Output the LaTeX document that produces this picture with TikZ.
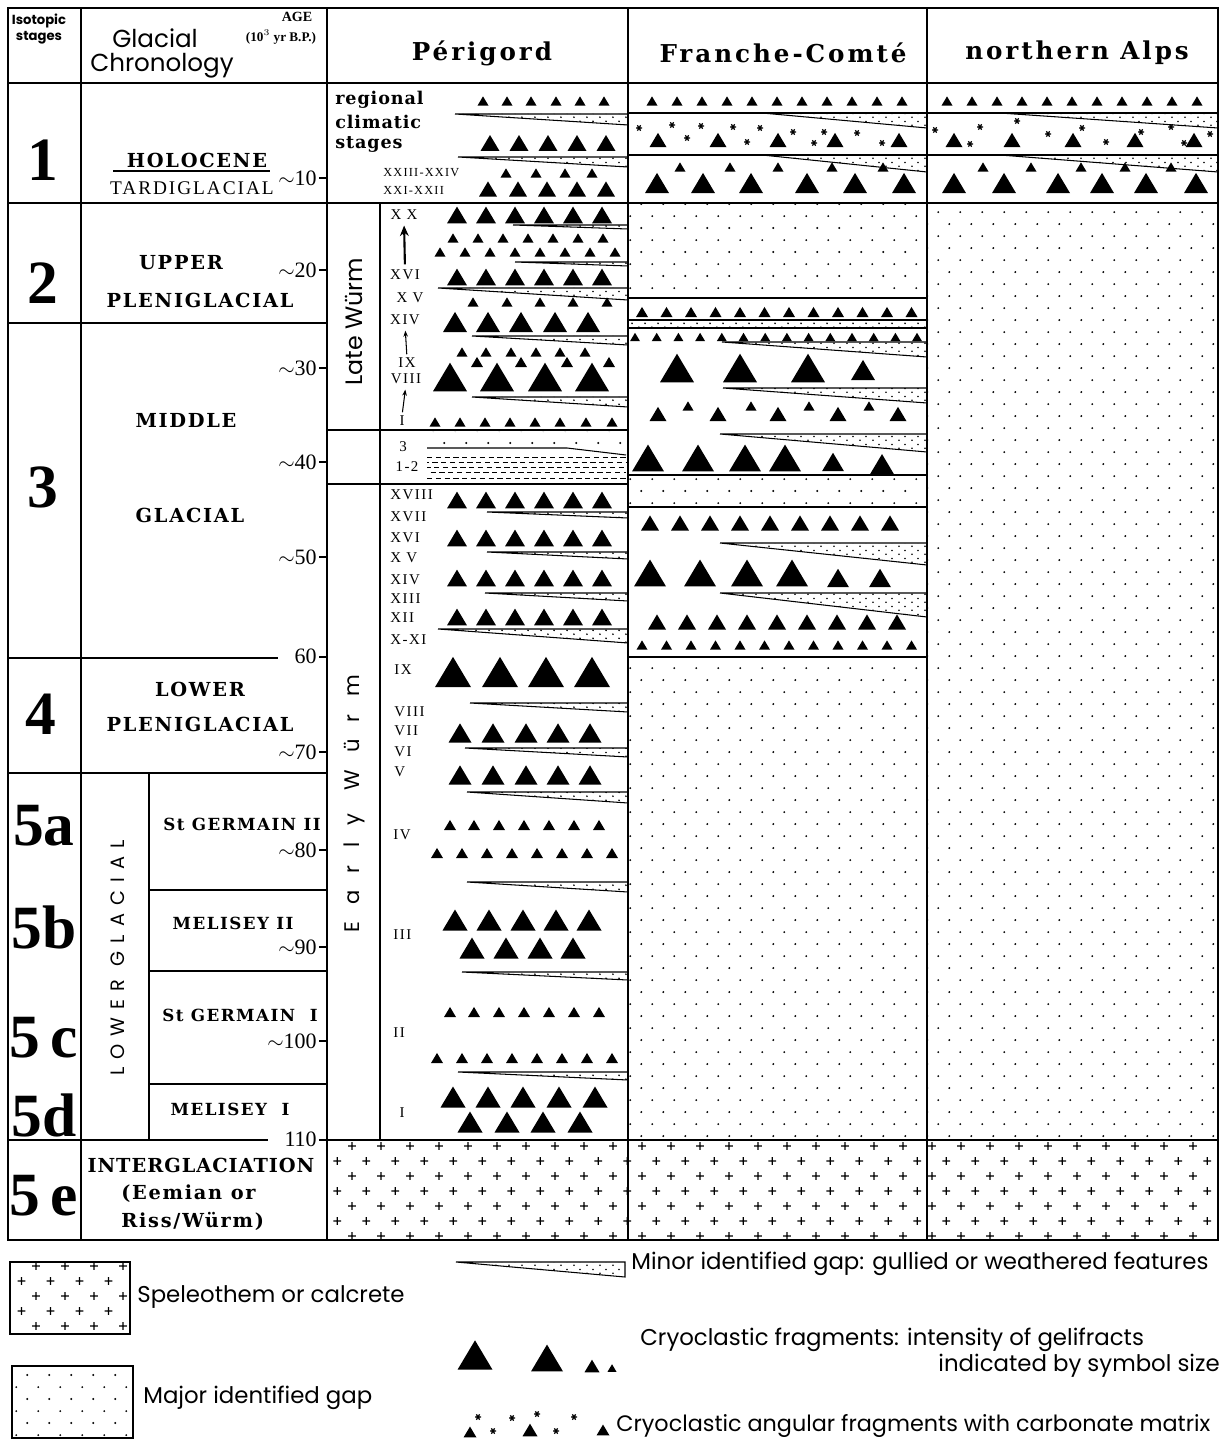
\documentclass[tikz,border=0pt]{standalone}
\usepackage{fontspec}
\usetikzlibrary{patterns,arrows.meta}
\newfontfamily\slabfont[LetterSpace=5]{DejaVu Serif}
\newfontfamily\spacedslab[LetterSpace=9]{DejaVu Serif}
\newfontfamily\headfont[LetterSpace=12]{DejaVu Serif}
\newfontfamily\timesfont{Liberation Serif}
\newfontfamily\romfont[LetterSpace=10]{Liberation Serif}
\newfontfamily\gothfont{Poppins}
\newfontfamily\widegoth[LetterSpace=82]{Poppins}
\newfontfamily\spacedgoth[LetterSpace=42]{Poppins}

% dotted fill of the major gaps
\pgfdeclarepatternformonly{gapdots}{\pgfpointorigin}{\pgfpoint{12.5pt}{13.6pt}}{\pgfpoint{12.5pt}{13.6pt}}{%
  \pgfpathcircle{\pgfpoint{3pt}{3.4pt}}{0.6pt}%
  \pgfpathcircle{\pgfpoint{9.25pt}{10.2pt}}{0.6pt}%
  \pgfusepath{fill}}
% fine dots in the minor gaps
\pgfdeclarepatternformonly{wedgedots}{\pgfpointorigin}{\pgfpoint{7.4pt}{4.6pt}}{\pgfpoint{7.4pt}{4.6pt}}{%
  \pgfpathcircle{\pgfpoint{1.2pt}{1.1pt}}{0.55pt}%
  \pgfpathcircle{\pgfpoint{4.9pt}{3.4pt}}{0.55pt}%
  \pgfusepath{fill}}
% speleothem crosses
\pgfdeclarepatternformonly{plusgrid}{\pgfpointorigin}{\pgfpoint{16.4pt}{17pt}}{\pgfpoint{16.4pt}{17pt}}{%
  \pgfsetlinewidth{0.7pt}%
  \pgfpathmoveto{\pgfpoint{1.8pt}{4pt}}\pgfpathlineto{\pgfpoint{6.2pt}{4pt}}%
  \pgfpathmoveto{\pgfpoint{4pt}{1.8pt}}\pgfpathlineto{\pgfpoint{4pt}{6.2pt}}%
  \pgfpathmoveto{\pgfpoint{10pt}{12.5pt}}\pgfpathlineto{\pgfpoint{14.4pt}{12.5pt}}%
  \pgfpathmoveto{\pgfpoint{12.2pt}{10.3pt}}\pgfpathlineto{\pgfpoint{12.2pt}{14.7pt}}%
  \pgfusepath{stroke}}

\tikzset{
	outerframe/.style={line width=1.3pt},
	boxline/.style={line width=0.9pt},
	wedgeline/.style={line width=0.6pt},
	colhead/.style={font=\headfont\bfseries\fontsize{14}{14}\selectfont},
	stagenum/.style={font=\timesfont\bfseries\fontsize{35}{35}\selectfont},
	period/.style={font=\spacedslab\bfseries\fontsize{11}{11}\selectfont},
	subperiod/.style={font=\spacedslab\bfseries\fontsize{9.5}{9.5}\selectfont},
	agelab/.style={font=\timesfont\fontsize{12.5}{12.5}\selectfont, anchor=east},
	layerlab/.style={font=\romfont\fontsize{8.5}{8.5}\selectfont},
	legtext/.style={font=\gothfont\fontsize{13}{13}\selectfont, anchor=west},
	uparrow/.style={-{Stealth[length=6pt,width=5pt]}, line width=1.2pt, shorten <=3pt, shorten >=3pt},
	smallarrow/.style={-{Stealth[length=3.5pt,width=2.6pt]}, line width=0.6pt, shorten <=2pt, shorten >=3pt}
}

% gelifract triangle: centre x, centre y, width
\newcommand\gel[3]{\fill (#1,#2) ++(-#3/2,0.42*#3) -- ++(#3,0) -- ++(-#3/2,-0.84*#3) -- cycle;}
\newcommand\gelrow[3]{\foreach \x in {#3} {\gel{\x}{#1}{#2}}}
% minor gap wedge: left x, top y, right x, thickness at right
\newcommand\gapw[4]{%
	\fill[pattern=wedgedots] (#1,#2) -- (#3,#2) -- (#3,#2+#4) -- cycle;
	\draw[wedgeline] (#1,#2) -- (#3,#2) (#1,#2) -- (#3,#2+#4);}
% carbonate star
\newcommand\astr[2]{\draw[line width=0.7pt] (#1-3,#2) -- (#1+3,#2) (#1-1.6,#2-2.7) -- (#1+1.6,#2+2.7) (#1+1.6,#2-2.7) -- (#1-1.6,#2+2.7);}

\begin{document}
\begin{tikzpicture}[x=0.02cm, y=-0.02cm, every node/.style={inner sep=0pt}]
	\useasboundingbox (0,0) rectangle (1223,1452);

	% fills
	\fill[pattern=gapdots] (628,203) rectangle (927,298);
	\fill[pattern=gapdots] (628,475) rectangle (927,507);
	\fill[pattern=gapdots] (628,657) rectangle (927,1140);
	\fill[pattern=gapdots] (927,203) rectangle (1218,1140);
	\fill[pattern=wedgedots] (628,320) rectangle (927,328);
	\fill[pattern=plusgrid] (327,1140) rectangle (1218,1240);

	% grid
	\draw[outerframe] (8,8) rectangle (1218,1240);
	\draw[boxline] (8,83) -- (1218,83);
	\draw[boxline] (81,8) -- (81,1240) (327,8) -- (327,1240) (628,8) -- (628,1240) (927,8) -- (927,1240);
	\draw[boxline] (8,203) -- (1218,203) (8,323) -- (327,323) (8,658) -- (278,658) (8,773) -- (327,773);
	\draw[boxline] (8,1140) -- (268,1140) (327,1140) -- (1218,1140);
	\draw[boxline] (149,773) -- (149,1140);
	\draw[boxline] (149,890) -- (327,890) (149,971) -- (327,971) (149,1084) -- (327,1084);
	\draw[boxline] (113,171) -- (270,171);
	\draw[boxline] (380,203) -- (380,1140) (327,430) -- (628,430) (327,484) -- (628,484);
	\draw[boxline] (628,113) -- (1218,113) (628,155) -- (1218,155);
	\draw[boxline] (628,298) -- (927,298) (628,320) -- (927,320) (628,328) -- (927,328);
	\draw[boxline] (628,475) -- (927,475) (628,507) -- (927,507) (628,657) -- (927,657);
	\foreach \yy in {178,270,368,462,557,657,752,850,947,1041,1140}
		{\draw[boxline] (319,\yy) -- (327,\yy);}

	% header
	\node[font=\gothfont\bfseries\fontsize{7.5}{9}\selectfont, align=center] (iso) at (39,29) {Isotopic\\stages};
	\node[font=\gothfont\fontsize{14}{14}\selectfont, anchor=base] (glac) at (155,48) {Glacial};
	\node[font=\gothfont\fontsize{14}{14}\selectfont, anchor=base] (chron) at (162,72) {Chronology};
	\node[font=\timesfont\bfseries\fontsize{8}{8}\selectfont] (age) at (297,17) {AGE};
	\node[font=\timesfont\bfseries\fontsize{7.5}{7.5}\selectfont] (ageunit) at (281,37) {(10$^3$ yr B.P.)};
	\node[colhead] (perigord) at (482,53) {Périgord};
	\node[colhead] (franche) at (783,53) {Franche-Comté};
	\node[colhead] (alps) at (1077,53) {northern Alps};

	% isotopic stages
	\node[stagenum] (s1) at (43,160) {1};
	\node[stagenum] (s2) at (43,283) {2};
	\node[stagenum] (s3) at (43,487) {3};
	\node[stagenum] (s4) at (41,714) {4};
	\node[stagenum] (s5a) at (44,826) {5a};
	\node[stagenum] (s5b) at (44,927) {5b};
	\node[stagenum] (s5c) at (44,1038) {5\,c};
	\node[stagenum] (s5d) at (44,1115) {5d};
	\node[stagenum] (s5e) at (44,1196) {5\,e};

	% glacial chronology
	\node[period] (holo) at (197,160) {HOLOCENE};
	\node[font=\romfont\fontsize{11}{11}\selectfont] (tardi) at (192,188) {TARDIGLACIAL};
	\node[period] (upper) at (181,263) {UPPER};
	\node[period] (uplen) at (200,300) {PLENIGLACIAL};
	\node[period] (middle) at (186,420) {MIDDLE};
	\node[period] (midgla) at (190,515) {GLACIAL};
	\node[period] (lower) at (200,689) {LOWER};
	\node[period] (lowplen) at (200,724) {PLENIGLACIAL};
	\node[font=\spacedgoth\fontsize{11}{11}\selectfont, rotate=90] (lowgla) at (118,958) {LOWER GLACIAL};
	\node[subperiod] (stg2) at (242,824) {St GERMAIN II};
	\node[subperiod] (mel2) at (233,923) {MELISEY II};
	\node[subperiod] (stg1) at (240,1015) {St GERMAIN \ I};
	\node[subperiod] (mel1) at (230,1109) {MELISEY \ I};
	\node[font=\slabfont\bfseries\fontsize{11}{11}\selectfont] (inter) at (201,1165) {INTERGLACIATION};
	\node[period, anchor=west] (eem) at (121,1194) {(Eemian or};
	\node[period, anchor=west] (riss) at (121,1221) {Riss/Würm)};

	% ages
	\node[agelab] (a10) at (317,178) {$\sim$10};
	\node[agelab] (a20) at (317,270) {$\sim$20};
	\node[agelab] (a30) at (317,368) {$\sim$30};
	\node[agelab] (a40) at (317,462) {$\sim$40};
	\node[agelab] (a50) at (317,557) {$\sim$50};
	\node[agelab] (a60) at (317,656) {60};
	\node[agelab] (a70) at (317,752) {$\sim$70};
	\node[agelab] (a80) at (317,850) {$\sim$80};
	\node[agelab] (a90) at (317,947) {$\sim$90};
	\node[agelab] (a100) at (317,1041) {$\sim$100};
	\node[agelab] (a110) at (317,1139) {110};

	% Perigord, Holocene
	\node[font=\slabfont\bfseries\fontsize{10}{11}\selectfont, anchor=west] (regional) at (335,100) {regional};
	\node[font=\slabfont\bfseries\fontsize{10}{11}\selectfont, anchor=west] (climatic) at (335,122) {climatic};
	\node[font=\slabfont\bfseries\fontsize{10}{11}\selectfont, anchor=west] (stages) at (335,144) {stages};
	\node[font=\romfont\fontsize{7}{7}\selectfont, anchor=west] (h2324) at (383,173) {XXIII-XXIV};
	\node[font=\romfont\fontsize{7}{7}\selectfont, anchor=west] (h2122) at (383,190) {XXI-XXII};
	\gelrow{101}{11}{483,507,531,556,580,604}
	\gapw{455}{114}{628}{11}
	\gelrow{143}{19}{490,519,548,577,606}
	\gapw{458}{157}{628}{10}
	\gelrow{173}{11}{506,536,565,592}
	\gelrow{189}{18}{488,518,547,577,606}

	% Perigord, Late Wurm
	\node[font=\gothfont\fontsize{13.5}{13.5}\selectfont, rotate=90] (latew) at (354,322) {Late Würm};
	\node[layerlab] (lw20) at (404,215) {X X};
	\node[layerlab] (lw16) at (405,275) {XVI};
	\node[layerlab] (lw15) at (410,298) {X V};
	\node[layerlab] (lw14) at (405,320) {XIV};
	\node[layerlab] (lw9) at (407,363) {IX};
	\node[layerlab] (lw8) at (406,379) {VIII};
	\node[layerlab] (lw1) at (402,421) {I};
	\draw[uparrow] (lw16.north) -- (lw20.south);
	\draw[smallarrow] (lw9.north) -- (lw14.south);
	\draw[smallarrow] (lw1.north) -- (lw8.south);
	\gelrow{215}{20}{457,486,515,544,573,602}
	\gapw{513}{225}{628}{4}
	\gelrow{238}{11}{453,478,503,528,553,578,603}
	\gelrow{252}{11}{440,465,490,515,540,565,590,615}
	\gapw{515}{262}{628}{4}
	\gelrow{277}{20}{457,486,515,544,573,602}
	\gapw{438}{288}{628}{12}
	\gelrow{302}{11}{473,507,540,573,607}
	\gelrow{322}{24}{455,488,521,555,588}
	\gapw{472}{336}{628}{9}
	\gelrow{352}{11}{462,486,511,536,560,585}
	\gelrow{362}{12}{477,521,567,609}
	\gelrow{377}{34}{450,497,545,592}
	\gapw{472}{397}{628}{10}
	\gelrow{422}{11}{435,460,485,510,535,560,586,612}

	% Perigord, interstadial 1-3
	\node[layerlab] (i3) at (403,447) {3};
	\node[layerlab] (i12) at (407,467) {1-2};
	\fill[pattern=gapdots] (427,432) -- (626,432) -- (626,455) -- (567,448) -- (427,448) -- cycle;
	\draw[wedgeline] (427,448) -- (567,448) -- (626,455);
	\foreach \yy/\ph in {457/0,462/2,467/1,472/3,478/0}
		{\draw[line width=0.55pt, dash pattern=on 3pt off 2pt, dash phase=\ph pt] (427,\yy) -- (626,\yy);}

	% Perigord, Early Wurm
	\node[font=\widegoth\fontsize{12}{12}\selectfont, rotate=90] (earlyw) at (354,804) {Early Würm};
	\node[layerlab, anchor=west] (ew18) at (390,495) {XVIII};
	\node[layerlab, anchor=west] (ew17) at (390,517) {XVII};
	\node[layerlab, anchor=west] (ew16) at (390,538) {XVI};
	\node[layerlab, anchor=west] (ew15) at (390,558) {X V};
	\node[layerlab, anchor=west] (ew14) at (390,580) {XIV};
	\node[layerlab, anchor=west] (ew13) at (390,599) {XIII};
	\node[layerlab, anchor=west] (ew12) at (390,618) {XII};
	\node[layerlab, anchor=west] (ew10) at (390,640) {X-XI};
	\gelrow{500}{20}{457,486,515,544,573,602}
	\gapw{487}{512}{628}{6}
	\gelrow{538}{20}{457,486,515,544,573,602}
	\gapw{487}{552}{628}{7}
	\gelrow{578}{20}{457,486,515,544,573,602}
	\gapw{485}{593}{628}{8}
	\gelrow{617}{20}{457,486,515,544,573,602}
	\gapw{438}{629}{628}{14}
	\node[layerlab, anchor=west] (ew9) at (394,670) {IX};
	\node[layerlab, anchor=west] (ew8) at (394,712) {VIII};
	\node[layerlab, anchor=west] (ew7) at (394,731) {VII};
	\node[layerlab, anchor=west] (ew6) at (394,752) {VI};
	\node[layerlab, anchor=west] (ew5) at (394,772) {V};
	\node[layerlab, anchor=west] (ew4) at (393,835) {IV};
	\node[layerlab, anchor=west] (ew3) at (393,935) {III};
	\node[layerlab, anchor=west] (ew2) at (393,1033) {II};
	\node[layerlab] (ew1) at (402,1113) {I};
	\gelrow{672}{36}{453,500,546,592}
	\gapw{470}{703}{628}{9}
	\gelrow{733}{23}{460,493,526,558,590}
	\gapw{465}{748}{628}{9}
	\gelrow{775}{23}{460,493,526,558,590}
	\gapw{467}{792}{628}{11}
	\gelrow{825}{12}{450,474,499,524,549,574,599}
	\gelrow{853}{12}{437,462,487,512,537,562,587,612}
	\gapw{467}{882}{628}{10}
	\gelrow{920}{25}{455,489,523,556,589}
	\gelrow{948}{25}{472,506,540,573}
	\gapw{462}{972}{628}{8}
	\gelrow{1012}{12}{450,474,499,524,549,574,599}
	\gelrow{1058}{12}{437,462,487,512,537,562,587,612}
	\gapw{458}{1072}{628}{8}
	\gelrow{1097}{25}{453,488,523,559,595}
	\gelrow{1122}{25}{470,507,543,580}

	% Franche-Comte
	\gelrow{101}{11}{652,677,702,727,752,777,802,827,852,877,902}
	\gapw{762}{113}{927}{15}
	\gelrow{140}{17}{658,718,778,835,899}
	\foreach \sx/\sy in {639/128,672/125,701/126,733/127,760/128,687/138,747/142,793/132,814/143,824/132,857/133,882/143}
		{\astr{\sx}{\sy}}
	\gapw{762}{155}{927}{17}
	\gelrow{167}{11}{680,730,778,832,883}
	\gelrow{183}{24}{657,703,751,807,855,904}
	\gelrow{312}{12}{642,666.5,691,715.5,740,764.5,789,813.5,838,862.5,887,911.5}
	\gelrow{337}{10}{635,656.7,678.4,700.1,721.8,743.5,765.2,786.9,808.6,830.3,852,873.7,895.4,917}
	\gapw{722}{342}{927}{15}
	\gelrow{368}{34}{677,740,808}
	\gel{863}{370}{24}
	\gapw{723}{388}{927}{15}
	\gelrow{406}{11}{688,751,809,869}
	\gelrow{414}{17}{658,718,778,838,898}
	\gapw{720}{434}{927}{18}
	\gelrow{458}{32}{648,698,745,785}
	\gel{833}{462}{22}
	\gel{882}{465}{26}
	\gelrow{523}{18}{650,680,710,740,770,800,830,860,890}
	\gapw{720}{543}{927}{22}
	\gelrow{573}{32}{650,700,747,792}
	\gelrow{578}{22}{838,880}
	\gapw{720}{593}{927}{24}
	\gelrow{622}{18}{657,687,717,747,777,807,837,867,897}
	\gelrow{645}{11}{642,666.5,691,715.5,740,764.5,789,813.5,838,862.5,887,911.5}

	% northern Alps
	\gelrow{101}{11}{947,972,997,1022,1047,1072,1097,1122,1147,1172,1197}
	\gapw{1000}{113}{1218}{15}
	\gelrow{140}{17}{954,1012,1073,1135,1194}
	\foreach \sx/\sy in {935/130,970/144,980/127,1017/121,1048/134,1082/128,1106/142,1141/132,1171/127,1184/143,1210/134}
		{\astr{\sx}{\sy}}
	\gapw{1000}{155}{1218}{17}
	\gelrow{167}{11}{983,1031,1081,1125,1171}
	\gelrow{183}{24}{954,1004,1058,1102,1146,1196}

	% legend
	\draw[boxline, pattern=plusgrid] (10,1262) rectangle (130,1334);
	\node[legtext] (legspel) at (137,1297) {Speleothem or calcrete};
	\draw[boxline, pattern=gapdots] (12,1366) rectangle (133,1438);
	\node[legtext] (legmaj) at (143,1398) {Major identified gap};
	\fill[pattern=wedgedots] (456,1262) -- (625,1262) -- (625,1277) -- cycle;
	\draw[wedgeline] (456,1262) -- (625,1262) -- (625,1277) -- cycle;
	\node[legtext] (legmin) at (631,1264) {Minor identified gap: gullied or weathered features};
	\gel{475}{1355}{35}
	\gel{547}{1358}{32}
	\gel{592}{1366}{15}
	\gel{612}{1368}{9}
	\node[legtext] (legcryo) at (640,1340) {Cryoclastic fragments: intensity of gelifracts};
	\node[legtext, anchor=east] (legsize) at (1220,1366) {indicated by symbol size};
	\gel{470}{1432}{13}
	\gel{530}{1430}{15}
	\gel{603}{1430}{13}
	\foreach \sx/\sy in {478/1417,493/1431,512/1418,537/1414,556/1431,574/1417}
		{\astr{\sx}{\sy}}
	\node[legtext, font=\gothfont\fontsize{12.7}{12.7}\selectfont] (legcarb) at (616,1426) {Cryoclastic angular fragments with carbonate matrix};
\end{tikzpicture}
\end{document}
